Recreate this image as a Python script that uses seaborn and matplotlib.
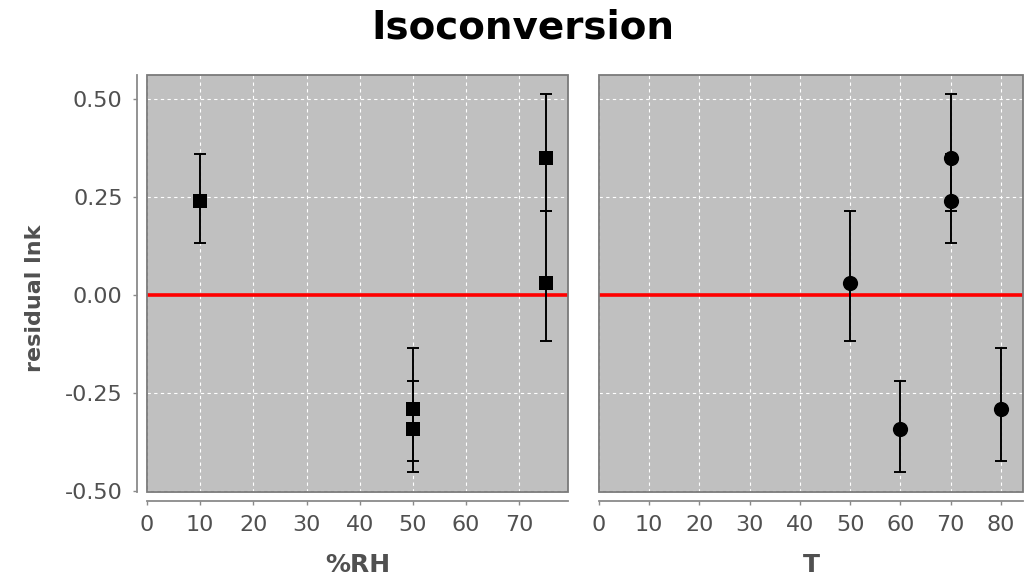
import matplotlib
matplotlib.use('Agg')
import matplotlib.pyplot as plt
import seaborn as sns
import pandas as pd
from matplotlib.patches import Rectangle
from matplotlib.ticker import MultipleLocator, StrMethodFormatter

# residuals, with lower / upper error bar ends
rh = [10, 50, 50, 75, 75]
temp = [70, 80, 60, 70, 50]
resid = [0.240, -0.291, -0.342, 0.351, 0.032]
err_lo = [0.134, -0.423, -0.451, 0.2145, -0.118]
err_hi = [0.3615, -0.135, -0.2205, 0.514, 0.2145]
y_ticks = [-0.50, -0.25, 0.00, 0.25, 0.50]

df = pd.DataFrame({'%RH': rh, 'T': temp, 'resid': resid, 'lo': err_lo, 'hi': err_hi})

sns.set_theme(style='ticks')
plt.rcParams['font.family'] = ['DejaVu Sans']
plt.rcParams['axes.unicode_minus'] = False

bg = '#c0c0c0'
txt = '#505050'
axis_c = '#8a8a8a'

fig = plt.figure(figsize=(10.29, 5.80), dpi=100)
ax1 = fig.add_axes([0.1429, 0.1517, 0.4091, 0.719])
ax2 = fig.add_axes([0.5821, 0.1517, 0.412, 0.719], sharey=ax1)


def draw_panel(ax, xcol, marker, size, xmax):
    ax.set_facecolor(bg)
    yerr = [df['resid'] - df['lo'], df['hi'] - df['resid']]
    ax.errorbar(df[xcol], df['resid'], yerr=yerr, fmt='none', ecolor='black',
                elinewidth=1.4, capsize=4, capthick=1.4, zorder=3)
    sns.scatterplot(data=df, x=xcol, y='resid', marker=marker, s=size, color='black',
                    edgecolor='black', linewidth=0, ax=ax, zorder=4, legend=False)
    ax.axhline(0, color='#ff0000', lw=2.6, zorder=2)
    ax.set_xlim(0, xmax)
    ax.set_ylim(-0.503, 0.562)
    ax.xaxis.set_major_locator(MultipleLocator(10))
    ax.set_yticks(y_ticks)
    ax.yaxis.set_major_formatter(StrMethodFormatter('{x:.2f}'))
    ax.grid(True, color='white', ls=(0, (3, 3)), lw=0.8)
    ax.set_axisbelow(True)
    for s in ['top', 'right']:
        ax.spines[s].set_visible(False)
    ax.spines['bottom'].set_position(('outward', 6.5))
    ax.spines['bottom'].set_color(axis_c)
    ax.spines['bottom'].set_linewidth(1.3)
    ax.add_patch(Rectangle((0, 0), 1, 1, transform=ax.transAxes, fill=False,
                           ec='#7a7a7a', lw=1.3, zorder=5, clip_on=False))
    ax.tick_params(axis='x', colors=axis_c, labelcolor=txt, labelsize=16,
                   length=3, width=1, pad=7)
    ax.set_xlabel(xcol, fontsize=18, fontweight='bold', color=txt)
    ax.xaxis.set_label_coords(0.5, -0.175)
    ax.xaxis.label.set_va('center')


draw_panel(ax1, '%RH', 's', 100, 79.2)
draw_panel(ax2, 'T', 'o', 120, 84.4)

ax1.spines['left'].set_position(('outward', 7.5))
ax1.spines['left'].set_color(axis_c)
ax1.spines['left'].set_linewidth(1.3)
ax1.tick_params(axis='y', colors=axis_c, labelcolor=txt, labelsize=16,
                length=3, width=1, pad=7)
ax1.set_ylabel('residual lnk', fontsize=16, fontweight='bold', color=txt)
ax1.yaxis.set_label_coords(-0.266, 0.465)
ax1.yaxis.label.set_va('center')

ax2.spines['left'].set_visible(False)
ax2.tick_params(axis='y', left=False, labelleft=False)
ax2.set_ylabel('')

fig.text(0.508, 0.952, 'Isoconversion', ha='center', va='center',
         fontsize=28, fontweight='bold', color='black')

fig.savefig('out.png', dpi=100)
